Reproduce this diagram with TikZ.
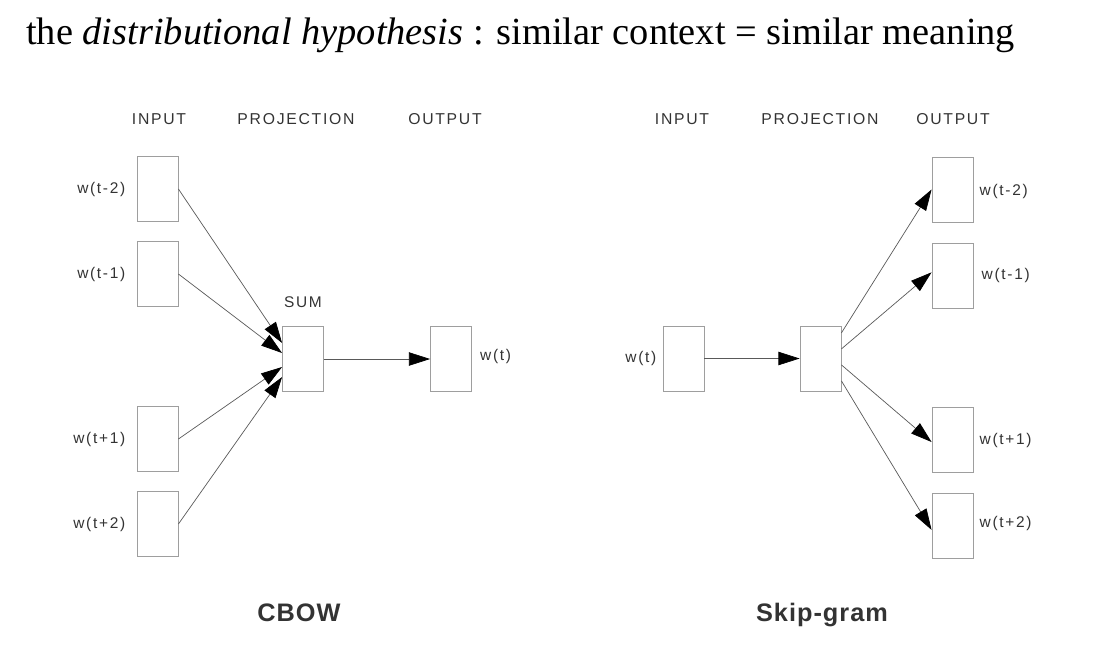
\documentclass[tikz,border=0pt]{standalone}
\usepackage{fontspec}
\setmainfont{Liberation Serif}
\newfontfamily\labelfont[LetterSpace=11]{Liberation Sans}
\newfontfamily\namefont[LetterSpace=4]{Liberation Sans}
\usepackage{tikz}
\usetikzlibrary{arrows.meta,positioning}
\definecolor{boxgray}{gray}{0.62}
\definecolor{linegray}{gray}{0.35}
\definecolor{textgray}{gray}{0.2}
\tikzset{
  unit/.style={rectangle,draw=boxgray,line width=0.6pt,
    minimum width=1.025cm,minimum height=1.625cm,inner sep=0pt},
  word/.style={font=\labelfont\fontsize{11}{13}\selectfont,text=textgray,inner sep=0pt},
  head/.style={font=\labelfont\fontsize{11.2}{13}\selectfont,text=textgray,inner sep=0pt},
  model/.style={font=\namefont\bfseries\fontsize{18}{20}\selectfont,text=textgray,
    inner sep=0pt,anchor=base},
  arrow/.style={-{Triangle[length=15pt,width=9.5pt,color=black]},draw=linegray,line width=0.5pt},
}
\begin{document}
\begin{tikzpicture}[x=0.025cm,y=-0.025cm]
\useasboundingbox (0,0) rectangle (1106,654);
% title
\node[anchor=base west,inner sep=0pt,font=\fontsize{27.3}{30}\selectfont] (title) at (26,44)
  {the \textit{distributional hypothesis} : similar context = similar meaning};

% CBOW
\node[head] (cin) at (159,119) {INPUT};
\node[head] (cproj) at (296,119) {PROJECTION};
\node[head] (cout) at (445,119) {OUTPUT};
\node[unit] (c1) at (157.5,189) {};
\node[unit] (c2) at (157.5,274) {};
\node[unit] (c3) at (157.5,439) {};
\node[unit] (c4) at (157.5,524) {};
\node[unit] (sum) at (303,359) {};
\node[unit] (cw) at (451,359) {};
\node[word,left=0.275cm of c1] {w(t-2)};
\node[word,left=0.275cm of c2] {w(t-1)};
\node[word,left=0.275cm of c3] {w(t+1)};
\node[word,left=0.275cm of c4] {w(t+2)};
\node[word,above=0.45cm of sum] (sumlab) {SUM};
\node[word,right=0.2cm of cw,yshift=0.06cm] {w(t)};
\node[model] (cbow) at (299,621) {CBOW};

\draw[arrow] (c1.east) -- ([yshift=0.4cm]sum.west);
\draw[arrow] (c2.east) -- ([yshift=0.15cm]sum.west);
\draw[arrow] (c3.east) -- ([yshift=-0.2cm]sum.west);
\draw[arrow] (c4.east) -- ([yshift=-0.45cm]sum.west);
\draw[arrow] (sum.east) -- (cw.west);

% Skip-gram
\node[head] (sin) at (682,119) {INPUT};
\node[head] (sproj) at (820,119) {PROJECTION};
\node[head] (sout) at (953,119) {OUTPUT};
\node[unit] (sw) at (683.5,358.5) {};
\node[unit] (proj) at (820.5,358.5) {};
\node[unit] (s1) at (952.5,189.5) {};
\node[unit] (s2) at (952.5,275.5) {};
\node[unit] (s3) at (952.5,440) {};
\node[unit] (s4) at (952.5,525.5) {};
\node[word,left=0.15cm of sw] {w(t)};
\node[word,right=0.15cm of s1,yshift=-0.06cm] {w(t-2)};
\node[word,right=0.2cm of s2] {w(t-1)};
\node[word,right=0.15cm of s3] {w(t+1)};
\node[word,right=0.15cm of s4,yshift=0.06cm] {w(t+2)};
\node[model] (skip) at (822,621) {Skip-gram};

\draw[arrow] (sw.east) -- (proj.west);
\draw[arrow] ([yshift=0.64cm]proj.east) -- (s1.west);
\draw[arrow] ([yshift=0.24cm]proj.east) -- ([yshift=0.08cm]s2.west);
\draw[arrow] ([yshift=-0.16cm]proj.east) -- ([yshift=-0.05cm]s3.west);
\draw[arrow] ([yshift=-0.56cm]proj.east) -- ([yshift=-0.11cm]s4.west);
\end{tikzpicture}
\end{document}
